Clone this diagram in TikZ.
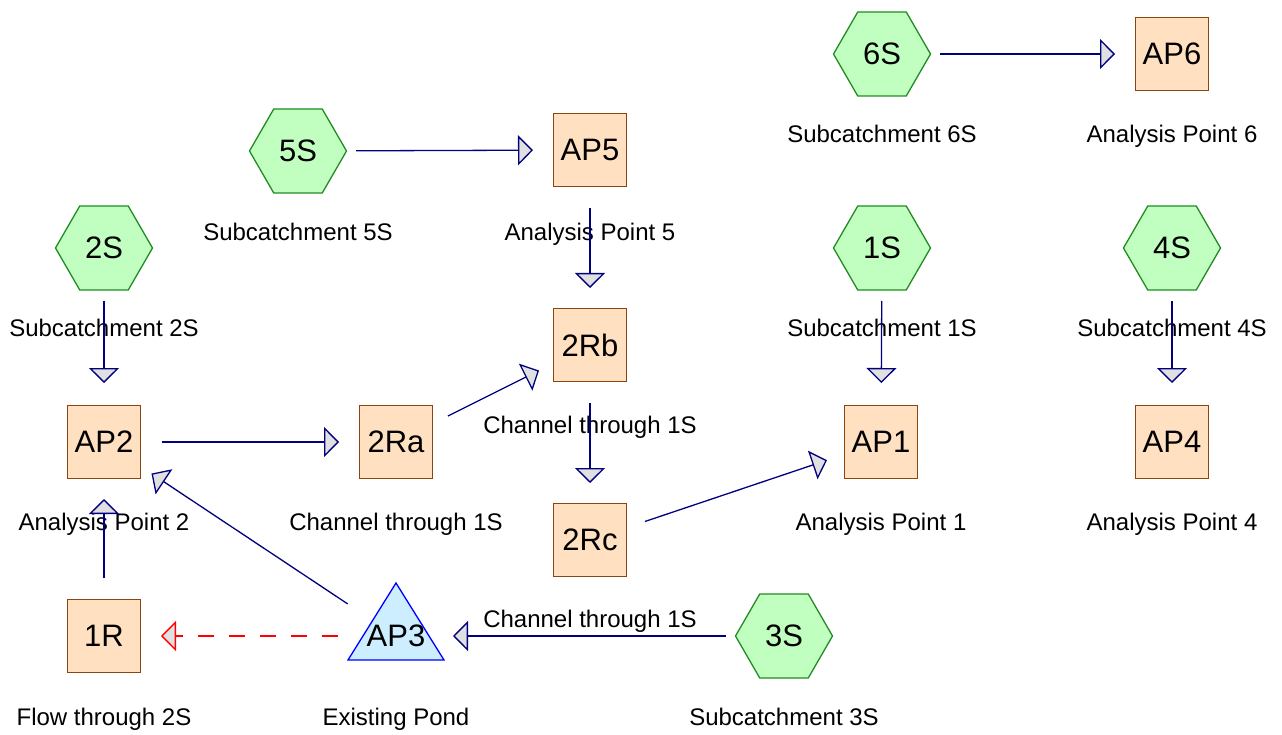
\documentclass[tikz,border=0pt]{standalone}
\usepackage{fontspec}
\setmainfont{Liberation Sans}
\usetikzlibrary{shapes.geometric,arrows.meta}
\definecolor{hexfill}{HTML}{C0FFC0}
\definecolor{hexline}{HTML}{228B22}
\definecolor{sqfill}{HTML}{FFE0C0}
\definecolor{sqline}{HTML}{8B4513}
\definecolor{pondfill}{HTML}{CCEEFF}
\definecolor{pondline}{HTML}{0000FF}
\definecolor{flowline}{HTML}{000080}
\definecolor{headfill}{HTML}{E0E0E0}
\begin{document}
\begin{tikzpicture}[x=1pt,y=-1pt,
 nodefont/.style={font=\fontsize{31}{36}\selectfont},
 hexnode/.style={regular polygon, regular polygon sides=6, minimum size=97pt, inner sep=0pt, fill=hexfill, draw=hexline, line width=1.3pt, nodefont},
 sqnode/.style={rectangle, minimum size=73pt, inner sep=0pt, fill=sqfill, draw=sqline, line width=1.3pt, nodefont},
 pondtext/.style={inner sep=0pt, nodefont},
 pondshape/.style={fill=pondfill, draw=pondline, line width=1.3pt, line join=miter},
 lbl/.style={anchor=base, inner sep=0pt, font=\fontsize{24}{28}\selectfont},
 flow/.style={draw=flowline, line width=1.3pt, -{Triangle[length=15pt,width=30pt,fill=headfill,line width=1.3pt]}, shorten <=58pt, shorten >=57pt},
 spill/.style={flow, draw=red, dash pattern=on 16pt off 15pt},
 vflow/.style={flow, shorten <=53pt, shorten >=59pt}
]
\useasboundingbox (0,0) rectangle (1282,735);

% labels
\node[lbl] (l5S) at (298,240.5) {Subcatchment 5S};
\node[lbl] (lAP5) at (590,240.5) {Analysis Point 5};
\node[lbl] (l6S) at (882,142.5) {Subcatchment 6S};
\node[lbl] (lAP6) at (1172,142.5) {Analysis Point 6};
\node[lbl] (l2S) at (104,336.5) {Subcatchment 2S};
\node[lbl] (l1S) at (882,336.5) {Subcatchment 1S};
\node[lbl] (l4S) at (1172,336.5) {Subcatchment 4S};
\node[lbl] (l2Rb) at (590,433.5) {Channel through 1S};
\node[lbl] (lAP2) at (104,530.5) {Analysis Point 2};
\node[lbl] (l2Ra) at (396,530.5) {Channel through 1S};
\node[lbl] (lAP1) at (881,530.5) {Analysis Point 1};
\node[lbl] (lAP4) at (1172,530.5) {Analysis Point 4};
\node[lbl] (l2Rc) at (590,627.5) {Channel through 1S};
\node[lbl] (l1R) at (104,725.5) {Flow through 2S};
\node[lbl] (lAP3) at (396,725.5) {Existing Pond};
\node[lbl] (l3S) at (784,725.5) {Subcatchment 3S};

% nodes
\node[hexnode] (s5) at (298,151) {5S};
\node[sqnode] (ap5) at (590,150) {AP5};
\node[hexnode] (s6) at (882,54) {6S};
\node[sqnode] (ap6) at (1172,54) {AP6};
\node[hexnode] (s2) at (104,248) {2S};
\node[hexnode] (s1) at (882,248) {1S};
\node[hexnode] (s4) at (1172,248) {4S};
\node[sqnode] (r2b) at (590,345) {2Rb};
\node[sqnode] (ap2) at (104,442) {AP2};
\node[sqnode] (r2a) at (396,442) {2Ra};
\node[sqnode] (ap1) at (881,442) {AP1};
\node[sqnode] (ap4) at (1172,442) {AP4};
\node[sqnode] (r2c) at (590,540) {2Rc};
\node[sqnode] (r1) at (104,636) {1R};
\coordinate (ap3pos) at (396,636);
\draw[pondshape] ([shift={(0,-53)}]ap3pos) -- ++(48,77) -- ++(-96,0) -- cycle;
\node[pondtext] (ap3) at (ap3pos) {AP3};
\node[hexnode] (s3) at (784,636) {3S};

% connectors
\draw[flow] (s5.center) -- (ap5.center);
\draw[flow] (s6.center) -- (ap6.center);
\draw[vflow] (s2.center) -- (ap2.center);
\draw[vflow] (s1.center) -- (ap1.center);
\draw[vflow] (s4.center) -- (ap4.center);
\draw[flow] (ap5.center) -- (r2b.center);
\draw[flow] (ap2.center) -- (r2a.center);
\draw[flow] (r2a.center) -- (r2b.center);
\draw[flow] (r2b.center) -- (r2c.center);
\draw[flow] (r2c.center) -- (ap1.center);
\draw[flow] (r1.center) -- (ap2.center);
\draw[flow] (ap3.center) -- (ap2.center);
\draw[flow] (s3.center) -- (ap3.center);
\draw[spill] (ap3.center) -- (r1.center);
\end{tikzpicture}
\end{document}
